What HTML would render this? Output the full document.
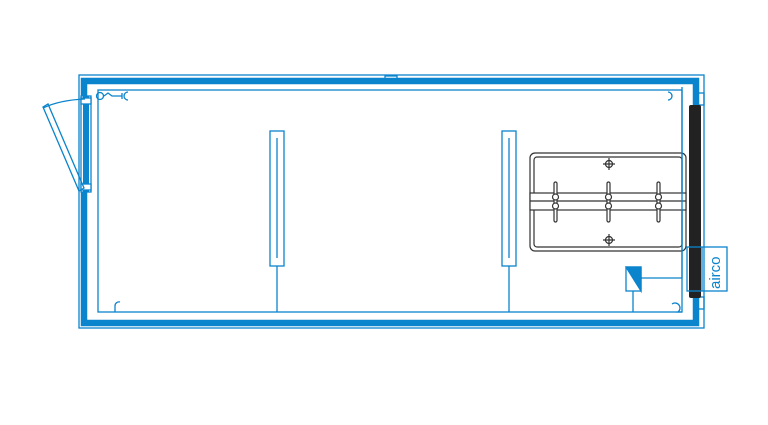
<!DOCTYPE html><html><head><style>body{margin:0;background:#fff}</style></head><body>
<svg width="768" height="420" xmlns="http://www.w3.org/2000/svg" fill="none" stroke="#0a84cc" stroke-width="1.3">
<rect x="79" y="75" width="625" height="253"/>
<rect x="84" y="81" width="612" height="242" stroke-width="6.5"/>
<rect x="98" y="90" width="584" height="222"/>
<rect x="385" y="76" width="12" height="4"/>
<rect x="81" y="96" width="10" height="96" fill="#fff"/>
<rect x="83" y="96" width="6" height="96" fill="#0a84cc" stroke="none"/>
<rect x="81" y="98" width="10" height="6" fill="#fff"/>
<rect x="81" y="184" width="10" height="6" fill="#fff"/>
<path d="M85 99 Q60 100 43 108"/>
<path d="M43 107 L48 104 L84 188 L79 191 Z"/>
<circle cx="100" cy="96" r="3.5"/>
<path d="M104 96 L108 93 L112 96 L122 96 M122 93 L122 99 M128 92 A4 4 0 0 0 128 100"/>
<path d="M115 312 L115 306 A4 4 0 0 1 120 302"/>
<path d="M682 312 L678 312 A4 4 0 0 0 672 304"/>
<path d="M668 92 A4 4 0 0 1 668 100"/>
<rect x="270" y="131" width="14" height="135"/><line x1="277" y1="138" x2="277" y2="258"/><line x1="277" y1="266" x2="277" y2="312"/>
<rect x="502" y="131" width="14" height="135"/><line x1="509" y1="138" x2="509" y2="258"/><line x1="509" y1="266" x2="509" y2="312"/>
<rect x="697" y="93" width="7" height="12"/><rect x="697" y="297" width="7" height="12"/>
<g stroke="#333" stroke-width="1.2">
<rect x="530" y="153" width="156" height="98" rx="5"/>
<rect x="534" y="157" width="148" height="90" rx="3"/>
<rect x="530" y="193" width="156" height="17" fill="#fff"/>
<line x1="530" y1="201" x2="686" y2="201"/>
<g><circle cx="609" cy="164" r="3.5"/><path d="M609 158v12M603 164h12"/></g>
<g><circle cx="609" cy="240" r="3.5"/><path d="M609 234v12M603 240h12"/></g>
<g fill="#fff"><rect x="554" y="182" width="3" height="40" rx="1.5"/><rect x="607" y="182" width="3" height="40" rx="1.5"/><rect x="657" y="182" width="3" height="40" rx="1.5"/>
<circle cx="555.5" cy="197" r="3"/><circle cx="555.5" cy="206" r="3"/><circle cx="608.5" cy="197" r="3"/><circle cx="608.5" cy="206" r="3"/><circle cx="658.5" cy="197" r="3"/><circle cx="658.5" cy="206" r="3"/></g>
</g>
<rect x="689" y="105" width="12" height="193" rx="2" fill="#222" stroke="none"/>
<path d="M682 87 L682 278 L641 278"/>
<rect x="626" y="267" width="15" height="24"/>
<path d="M626 267 L641 267 L641 291 Z" fill="#0a84cc"/>
<line x1="633" y1="291" x2="633" y2="312"/>
<rect x="687" y="247" width="40" height="44"/>
<line x1="702" y1="247" x2="702" y2="291"/>
<text x="720" y="289" transform="rotate(-90 720 289)" font-family="Liberation Sans, sans-serif" font-size="15" fill="#0a84cc" stroke="none">airco</text>
</svg></body></html>
